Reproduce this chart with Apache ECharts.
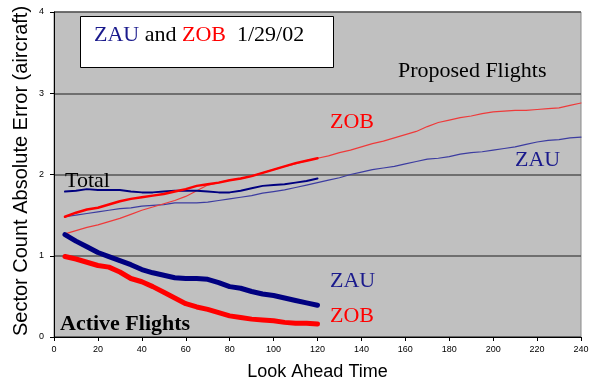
<!DOCTYPE html>
<html>
<head>
<meta charset="utf-8">
<script src="https://cdn.jsdelivr.net/npm/echarts@6/dist/echarts.min.js"></script>
<style>
  html, body { margin: 0; padding: 0; background: #fff; }
  #chart { width: 592px; height: 386px; }
</style>
</head>
<body>
<div id="chart"></div>
<script>
// Look-ahead times (minutes)
const lookShort = [5,10,15,20,25,30,35,40,45,50,55,60,65,70,75,80,85,90,95,100,105,110,115,120];
const lookLong = [5,10,15,20,25,30,35,40,45,50,55,60,65,70,75,80,85,90,95,100,105,110,115,120,
  125,130,135,140,145,150,155,160,165,170,175,180,185,190,195,200,205,210,215,220,225,230,235,240];

// Total flights
const totalZAU = [1.79,1.80,1.82,1.81,1.81,1.81,1.79,1.78,1.78,1.79,1.80,1.80,1.80,1.79,1.78,1.78,1.80,1.83,1.86,1.87,1.88,1.90,1.92,1.95];
const totalZOB = [1.48,1.53,1.57,1.59,1.63,1.67,1.70,1.72,1.74,1.76,1.79,1.82,1.86,1.88,1.90,1.93,1.95,1.98,2.02,2.06,2.10,2.14,2.17,2.20];

// Proposed flights
const proposedZAU = [1.48,1.50,1.52,1.54,1.56,1.58,1.59,1.61,1.62,1.63,1.65,1.65,1.65,1.66,1.68,1.70,1.72,1.74,1.77,1.79,1.81,1.84,1.87,1.90,
  1.93,1.96,2.00,2.03,2.06,2.08,2.10,2.13,2.16,2.19,2.20,2.22,2.25,2.27,2.28,2.30,2.32,2.34,2.37,2.40,2.42,2.43,2.45,2.46];
const proposedZOB = [1.27,1.31,1.35,1.38,1.42,1.46,1.51,1.56,1.60,1.64,1.68,1.73,1.80,1.87,1.90,1.93,1.95,1.98,2.02,2.06,2.10,2.13,2.17,2.20,
  2.23,2.27,2.30,2.34,2.38,2.41,2.45,2.49,2.53,2.59,2.64,2.67,2.70,2.72,2.75,2.77,2.78,2.79,2.79,2.80,2.81,2.82,2.85,2.88];

// Active flights
const activeZAU = [1.26,1.18,1.11,1.04,0.99,0.94,0.89,0.83,0.79,0.76,0.73,0.72,0.72,0.71,0.67,0.62,0.60,0.56,0.53,0.51,0.48,0.45,0.42,0.39];
const activeZOB = [0.99,0.96,0.92,0.88,0.86,0.80,0.72,0.68,0.62,0.55,0.48,0.41,0.37,0.34,0.30,0.26,0.24,0.22,0.21,0.20,0.18,0.17,0.17,0.16];

const xTicks = [0,20,40,60,80,100,120,140,160,180,200,220,240];
const yTicks = [0,1,2,3,4];

const pairs = (xs, ys) => xs.map((x, i) => [x, ys[i]]);

const SERIF = '"Liberation Serif", "Times New Roman", serif';
const SANS = '"Liberation Sans", Arial, sans-serif';
const BLUE = '#000080';
const LABEL_BLUE = '#1a1a8c';
const RED = '#ff0000';

function line(name, xs, ys, color, width, z) {
  return {
    name, type: 'line', data: pairs(xs, ys), showSymbol: false, symbol: 'none',
    lineStyle: { color, width, cap: 'round', join: 'round' }, z, animation: false
  };
}

function note(text, left, top, fill, bold) {
  return { type: 'text', left, top, z: 11,
    style: { text, fill, font: (bold ? 'bold ' : '') + '22px ' + SERIF } };
}

const chart = echarts.init(document.getElementById('chart'), null, { renderer: 'canvas' });
chart.setOption({
  animation: false,
  backgroundColor: '#ffffff',
  grid: {
    left: 54, right: 11, top: 12, bottom: 47,
    show: true, backgroundColor: '#c0c0c0', borderColor: '#8a8a8a', borderWidth: 1
  },
  xAxis: {
    type: 'value', min: 0, max: 240, interval: 20,
    name: 'Look Ahead Time', nameLocation: 'middle', nameGap: 26,
    nameTextStyle: { fontFamily: SANS, fontSize: 18, color: '#000' },
    axisLine: { show: true, lineStyle: { color: '#000', width: 1 } },
    axisTick: { show: true, inside: false, length: 4, lineStyle: { color: '#000' } },
    axisLabel: { fontFamily: SANS, fontSize: 9, color: '#000', margin: 8,
      formatter: v => xTicks.includes(v) ? String(v) : '' },
    splitLine: { show: false }
  },
  yAxis: {
    type: 'value', min: 0, max: 4, interval: 1,
    axisLine: { show: true, lineStyle: { color: '#000', width: 1 } },
    axisTick: { show: true, inside: false, length: 4, lineStyle: { color: '#000' } },
    axisLabel: { fontFamily: SANS, fontSize: 9, color: '#000', margin: 10,
      formatter: v => yTicks.includes(v) ? String(v) : '' },
    splitLine: { show: true, lineStyle: { color: '#555555', width: 1.5 } }
  },
  series: [
    line('Proposed ZAU', lookLong, proposedZAU, '#3c3ca0', 1.2, 2),
    line('Proposed ZOB', lookLong, proposedZOB, '#ee3a3a', 1.2, 2),
    line('Total ZAU', lookShort, totalZAU, BLUE, 2, 3),
    line('Total ZOB', lookShort, totalZOB, RED, 2.5, 3),
    line('Active ZAU', lookShort, activeZAU, BLUE, 5, 4),
    line('Active ZOB', lookShort, activeZOB, RED, 5, 4)
  ],
  graphic: [
    // vertical axis title
    { type: 'text', x: 21, y: 171, rotation: Math.PI / 2, z: 11,
      style: { text: 'Sector Count Absolute Error (aircraft)', fill: '#000',
        font: '20px ' + SANS, align: 'center', verticalAlign: 'middle' } },
    // caption box
    { type: 'rect', left: 80, top: 16, shape: { width: 253, height: 51 },
      style: { fill: '#ffffff', stroke: '#000', lineWidth: 1 }, z: 10 },
    { type: 'text', left: 94, top: 24, z: 11,
      style: {
        text: '{b|ZAU} {k|and} {r|ZOB}  {k|1/29/02}',
        rich: {
          b: { fill: LABEL_BLUE, fontFamily: SERIF, fontSize: 22 },
          r: { fill: RED, fontFamily: SERIF, fontSize: 22 },
          k: { fill: '#000', fontFamily: SERIF, fontSize: 22 }
        },
        font: '22px ' + SERIF
      } },
    note('Proposed Flights', 398, 60, '#000'),
    note('ZOB', 330, 111, RED),
    note('ZAU', 515, 149, LABEL_BLUE),
    note('Total', 65, 170, '#000'),
    note('ZAU', 330, 270, LABEL_BLUE),
    note('ZOB', 330, 305, RED),
    note('Active Flights', 60, 313, '#000', true)
  ]
});
</script>
</body>
</html>
